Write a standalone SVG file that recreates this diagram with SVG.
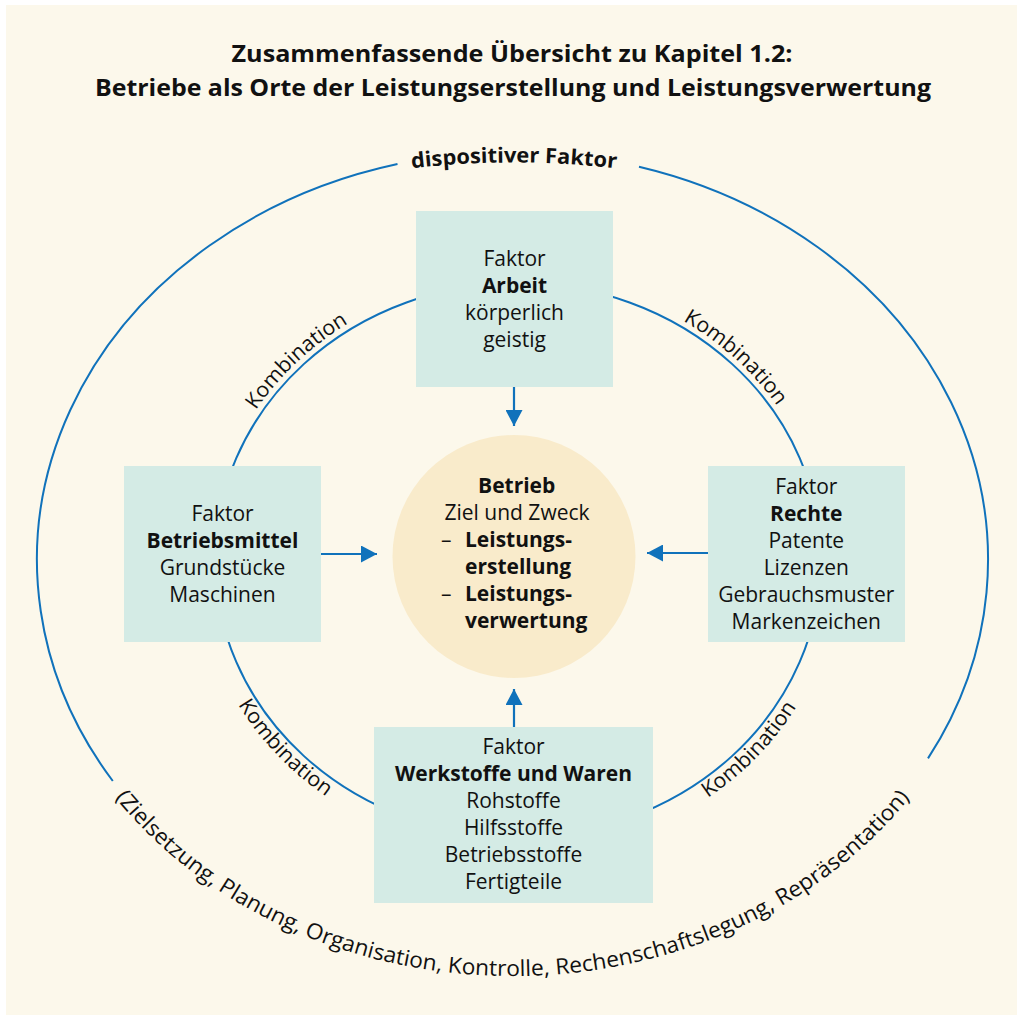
<svg xmlns="http://www.w3.org/2000/svg" xmlns:xlink="http://www.w3.org/1999/xlink" width="1017" height="1015" viewBox="0 0 1017 1015">
<style>
text{font-family:"Open Sans","Noto Sans","Liberation Sans",sans-serif;fill:#111;}
.t{font-size:21px;text-anchor:middle;}
.b{font-weight:700;}
.title{font-size:22.5px;font-weight:700;text-anchor:middle;}
.lbl{font-size:21px;}
.bt{font-size:22px;}
.ring{fill:none;stroke:#1072bb;stroke-width:2;}
.box{fill:#d4ebe5;}
.arr{stroke:#1072bb;stroke-width:2.2;fill:none;marker-end:url(#ah);}
</style>
<defs>
<marker id="ah" markerUnits="userSpaceOnUse" markerWidth="16" markerHeight="17" refX="16" refY="8.5" orient="auto">
<path d="M0,0 L16,8.5 L0,17 Z" fill="#1072bb"/>
</marker>
<path id="pDisp" d="M 314 185 A 900 900 0 0 1 714 185"/>
<path id="pBottom" d="M 93.3 768 A 484 416 0 0 0 931.7 768"/>
<path id="pK1" d="M 225.8 467.9 A 309 283 0 0 1 407.3 295.8"/>
<path id="pK2" d="M 623.7 294.1 A 309 283 0 0 1 808.4 463.2"/>
<path id="pK3" d="M 209.4 641.3 A 321 295 0 0 0 387.4 829.5"/>
<path id="pK4" d="M 646 830.5 A 321 295 0 0 0 825.8 643.8"/>
</defs>
<rect x="6" y="5" width="1011" height="1010" fill="#fcf8eb"/>

<g id="title">
<text class="title" x="512" y="62" textLength="561" lengthAdjust="spacingAndGlyphs">Zusammenfassende Übersicht zu Kapitel 1.2:</text>
<text class="title" x="513" y="96" textLength="836" lengthAdjust="spacingAndGlyphs">Betriebe als Orte der Leistungserstellung und Leistungsverwertung</text>
</g>

<g id="connectors">
<path class="ring" d="M 397.5 164.1 A 475.5 408 0 0 0 112.8 781"/>
<path class="ring" d="M 639 166.7 A 475.5 408 0 0 1 928 758.4"/>
<ellipse class="ring" cx="518" cy="560" rx="303" ry="277"/>
<line class="arr" x1="514" y1="387" x2="514" y2="426"/>
<line class="arr" x1="514" y1="727" x2="514" y2="689"/>
<line class="arr" x1="321" y1="554" x2="377" y2="554"/>
<line class="arr" x1="708" y1="553" x2="647" y2="553"/>
</g>

<g id="labels">
<text class="b" font-size="21"><textPath xlink:href="#pDisp" href="#pDisp" startOffset="50%" text-anchor="middle" textLength="205" lengthAdjust="spacingAndGlyphs">dispositiver Faktor</textPath></text>
<text class="bt"><textPath xlink:href="#pBottom" href="#pBottom" startOffset="36.75" textLength="132.4" lengthAdjust="spacingAndGlyphs">(Zielsetzung,</textPath></text>
<text class="bt"><textPath xlink:href="#pBottom" href="#pBottom" startOffset="175.05" textLength="92" lengthAdjust="spacingAndGlyphs">Planung,</textPath></text>
<text class="bt"><textPath xlink:href="#pBottom" href="#pBottom" startOffset="272.95" textLength="251.4" lengthAdjust="spacingAndGlyphs">Organisation, Kontrolle,</textPath></text>
<text class="bt"><textPath xlink:href="#pBottom" href="#pBottom" startOffset="530.35" textLength="230.9" lengthAdjust="spacingAndGlyphs">Rechenschaftslegung,</textPath></text>
<text class="bt"><textPath xlink:href="#pBottom" href="#pBottom" startOffset="767.15" textLength="169.6" lengthAdjust="spacingAndGlyphs">Repräsentation)</textPath></text>
<text class="lbl"><textPath xlink:href="#pK1" href="#pK1" startOffset="50%" text-anchor="middle" textLength="128" lengthAdjust="spacingAndGlyphs">Kombination</textPath></text>
<text class="lbl"><textPath xlink:href="#pK2" href="#pK2" startOffset="50%" text-anchor="middle" textLength="128" lengthAdjust="spacingAndGlyphs">Kombination</textPath></text>
<text class="lbl"><textPath xlink:href="#pK3" href="#pK3" startOffset="50%" text-anchor="middle" textLength="128" lengthAdjust="spacingAndGlyphs">Kombination</textPath></text>
<text class="lbl"><textPath xlink:href="#pK4" href="#pK4" startOffset="50%" text-anchor="middle" textLength="128" lengthAdjust="spacingAndGlyphs">Kombination</textPath></text>
</g>

<g id="arbeit">
<rect class="box" x="416" y="211" width="197" height="176"/>
<text class="t" x="514.5" y="266">Faktor</text>
<text class="t b" x="514.5" y="293">Arbeit</text>
<text class="t" x="514.5" y="320">körperlich</text>
<text class="t" x="514.5" y="347">geistig</text>
</g>

<g id="betriebsmittel">
<rect class="box" x="124" y="466" width="197" height="176"/>
<text class="t" x="222.5" y="521">Faktor</text>
<text class="t b" x="222.5" y="548">Betriebsmittel</text>
<text class="t" x="222.5" y="575">Grundstücke</text>
<text class="t" x="222.5" y="602">Maschinen</text>
</g>

<g id="rechte">
<rect class="box" x="708" y="466" width="197" height="176"/>
<text class="t" x="806.3" y="494">Faktor</text>
<text class="t b" x="806.3" y="521">Rechte</text>
<text class="t" x="806.3" y="548">Patente</text>
<text class="t" x="806.3" y="575">Lizenzen</text>
<text class="t" x="806.3" y="602">Gebrauchsmuster</text>
<text class="t" x="806.3" y="629">Markenzeichen</text>
</g>

<g id="werkstoffe">
<rect class="box" x="374" y="727" width="279" height="176"/>
<text class="t" x="513.5" y="754">Faktor</text>
<text class="t b" x="513.5" y="781">Werkstoffe und Waren</text>
<text class="t" x="513.5" y="808">Rohstoffe</text>
<text class="t" x="513.5" y="835">Hilfsstoffe</text>
<text class="t" x="513.5" y="862">Betriebsstoffe</text>
<text class="t" x="513.5" y="889">Fertigteile</text>
</g>

<g id="betrieb">
<circle cx="514" cy="556.5" r="121.5" fill="#f9ebcb"/>
<text class="t b" x="516.7" y="493">Betrieb</text>
<text class="t" x="517" y="520">Ziel und Zweck</text>
<text font-size="21" x="441" y="547">–</text>
<text class="b" font-size="21" x="465" y="547">Leistungs-</text>
<text class="b" font-size="21" x="465" y="574">erstellung</text>
<text font-size="21" x="441" y="601">–</text>
<text class="b" font-size="21" x="465" y="601">Leistungs-</text>
<text class="b" font-size="21" x="465" y="628">verwertung</text>
</g>
</svg>
